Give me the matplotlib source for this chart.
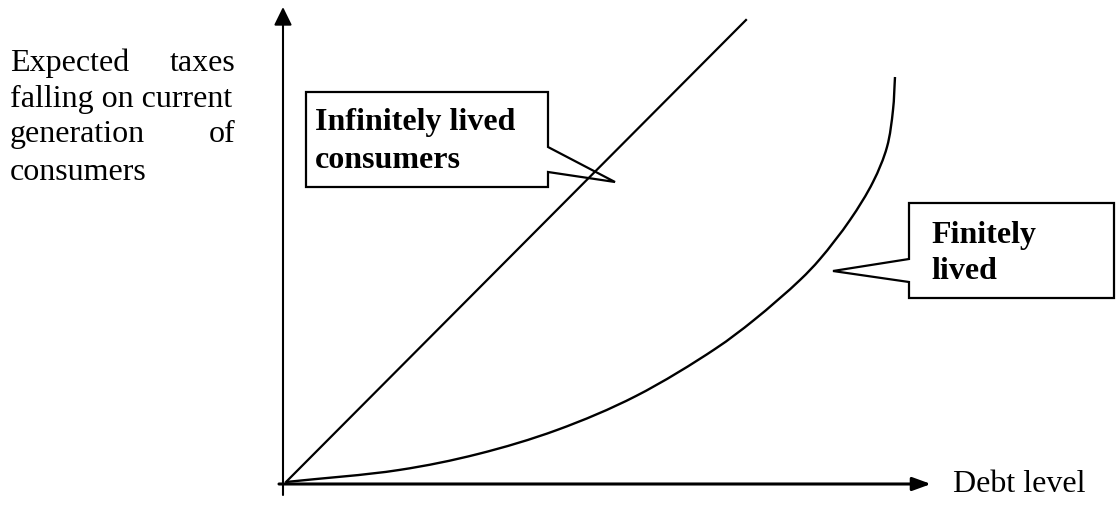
import numpy as np
import matplotlib.pyplot as plt
from matplotlib.patches import Polygon, Rectangle, PathPatch
from matplotlib.path import Path

# data (units: pixels from the origin)
line_debt = [0, 460]
line_taxes = [0, 462]

curve_debt = [0, 113, 192, 271, 350, 429, 468, 514, 534, 564, 587, 601, 607, 609]
curve_taxes = [0, 12, 28, 52, 86, 133, 162, 202, 223, 262, 300, 335, 372, 405]

ylabel_lines = [["Expected", "taxes"], ["falling on current"],
                ["generation", "of"], ["consumers"]]
xlabel = "Debt level"
infinite_label = ["Infinitely lived", "consumers"]
finite_label = ["Finitely", "lived"]

serif = ["Liberation Serif", "DejaVu Serif"]


def smooth_path(xs, ys, alpha=0.5):
    # centripetal Catmull-Rom through the points, as cubic Bezier segments
    p = np.column_stack([xs, ys]).astype(float)
    p = np.vstack([2 * p[0] - p[1], p, 2 * p[-1] - p[-2]])
    d = np.linalg.norm(np.diff(p, axis=0), axis=1) ** alpha
    t = np.concatenate([[0], np.cumsum(d)])
    verts = [p[1]]
    codes = [Path.MOVETO]
    for i in range(1, len(p) - 2):
        p0, p1, p2, p3 = p[i - 1], p[i], p[i + 1], p[i + 2]
        t0, t1, t2, t3 = t[i - 1], t[i], t[i + 1], t[i + 2]
        m1 = (t2 - t1) * ((p1 - p0) / (t1 - t0) - (p2 - p0) / (t2 - t0)
                          + (p2 - p1) / (t2 - t1))
        m2 = (t2 - t1) * ((p2 - p1) / (t2 - t1) - (p3 - p1) / (t3 - t1)
                          + (p3 - p2) / (t3 - t2))
        verts += [p1 + m1 / 3, p2 - m2 / 3, p2]
        codes += [Path.CURVE4] * 3
    return Path(verts, codes)


fig = plt.figure(figsize=(11.16, 5.07), dpi=100)
ax = fig.add_axes([0, 0, 1, 1])
ax.set_xlim(-286, 830)
ax.set_ylim(-25, 482)
ax.axis("off")

# axes with arrows
ax.annotate("", xy=(-3, 475), xytext=(-3, -13),
            arrowprops=dict(arrowstyle="-|>,head_length=0.55,head_width=0.27",
                            mutation_scale=20, lw=1.5, color="black",
                            shrinkA=0, shrinkB=0))
ax.annotate("", xy=(645, -2), xytext=(-7, -2),
            arrowprops=dict(arrowstyle="-|>,head_length=0.55,head_width=0.2",
                            mutation_scale=20, lw=2.2, color="black",
                            shrinkA=0, shrinkB=0))

# callout boxes
box1 = [(20, 390), (262, 390), (262, 335), (329, 300), (262, 310),
        (262, 295), (20, 295)]
box2 = [(623, 279), (828, 279), (828, 184), (623, 184), (623, 200),
        (547, 211), (623, 223)]
for pts in (box1, box2):
    ax.add_patch(Polygon(pts, closed=True, facecolor="white",
                         edgecolor="black", lw=1.6, zorder=2))

ax.plot(line_debt, line_taxes, color="black", lw=1.6, zorder=3)
ax.add_patch(PathPatch(smooth_path(curve_debt, curve_taxes), facecolor="none",
                       edgecolor="black", lw=1.7, zorder=3))

# y label, justified by hand
clip = Rectangle((-290, 305), 260, 200, transform=ax.transData)
for i, words in enumerate(ylabel_lines):
    y = 411 - i * 35.5 - (2 if i == 3 else 0)
    t = ax.text(-276, y, words[0], fontsize=23, family=serif,
                ha="left", va="baseline")
    t.set_clip_path(clip)
    if len(words) > 1:
        ax.text(-51, y, words[1], fontsize=23, family=serif,
                ha="right", va="baseline")

ax.text(667, -2, xlabel, fontsize=23, family=serif, ha="left", va="center")

for i, s in enumerate(infinite_label):
    ax.text(29, 352 - i * 38, s, fontsize=23, family=serif,
            fontweight="bold", ha="left", va="baseline", zorder=4)
for i, s in enumerate(finite_label):
    ax.text(645, 239 - i * 36, s, fontsize=23, family=serif,
            fontweight="bold", ha="left", va="baseline", zorder=4)

fig.savefig("out.png", dpi=100)
